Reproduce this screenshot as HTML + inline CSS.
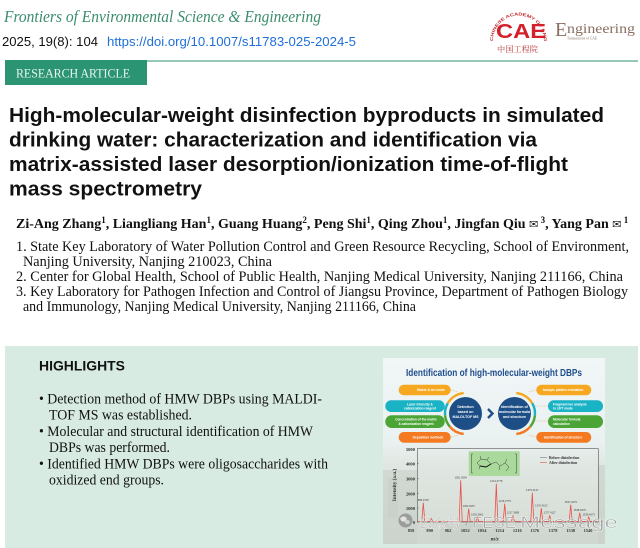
<!DOCTYPE html>
<html>
<head>
<meta charset="utf-8">
<style>
  html,body{margin:0;padding:0;background:#fff;}
  svg{display:block;}
</style>
</head>
<body>
<svg width="640" height="548" viewBox="0 0 640 548" xmlns="http://www.w3.org/2000/svg">
  <defs>
    <linearGradient id="card" x1="0" y1="0" x2="0" y2="1">
      <stop offset="0" stop-color="#f1f6f7"/>
      <stop offset="0.45" stop-color="#eaf1f1"/>
      <stop offset="0.58" stop-color="#e0e6e1"/>
      <stop offset="1" stop-color="#d4dbd4"/>
    </linearGradient>
    <path id="arcCAE" d="M 493 41 A 25 25 0 1 1 544 41"/>
  </defs>

  <rect x="0" y="0" width="640" height="548" fill="#ffffff"/>

  <!-- Journal header -->
  <text x="4" y="22" font-family="Liberation Serif, serif" font-style="italic" font-size="16.5" fill="#3b8c6c" textLength="317" lengthAdjust="spacingAndGlyphs">Frontiers of Environmental Science &amp; Engineering</text>
  <text x="2" y="46" font-family="Liberation Sans, sans-serif" font-size="13" fill="#111" textLength="96" lengthAdjust="spacingAndGlyphs">2025, 19(8): 104</text>
  <text x="107" y="46" font-family="Liberation Sans, sans-serif" font-size="13" fill="#1f6fd8" textLength="249" lengthAdjust="spacingAndGlyphs">https://doi.org/10.1007/s11783-025-2024-5</text>

  <!-- CAE logo -->
  <text font-family="Liberation Sans, sans-serif" font-size="4.2" fill="#c8282e" font-weight="bold"><textPath href="#arcCAE" textLength="108" lengthAdjust="spacingAndGlyphs">CHINESE ACADEMY OF ENGINEERING</textPath></text>
  <text x="496" y="38" font-family="Liberation Sans, sans-serif" font-weight="bold" font-size="20" fill="#d4202a" textLength="50" lengthAdjust="spacingAndGlyphs">CAE</text>
  <text x="497" y="52" font-family="Liberation Serif, 'Noto Serif CJK SC', serif" font-size="8" fill="#b8383a" textLength="41" lengthAdjust="spacingAndGlyphs">中国工程院</text>

  <!-- Engineering logo -->
  <text x="555" y="36" font-family="Liberation Serif, serif" font-size="20" fill="#8a6f62">E</text>
  <text x="567" y="33" font-family="Liberation Serif, serif" font-size="14" fill="#8a6f62" textLength="68" lengthAdjust="spacingAndGlyphs">ngineering</text>
  <text x="567" y="39.5" font-family="Liberation Serif, serif" font-size="4" fill="#8a6f62" textLength="30" lengthAdjust="spacingAndGlyphs">Transactions of CAE</text>

  <!-- Rule and badge -->
  <rect x="5" y="60" width="633" height="2" fill="#93c9b6"/>
  <rect x="5" y="60" width="142" height="25" fill="#2b9472"/>
  <text x="16" y="77.5" font-family="Liberation Serif, serif" font-size="13" fill="#e9f6f0" textLength="114" lengthAdjust="spacingAndGlyphs">RESEARCH ARTICLE</text>

  <!-- Title -->
  <g font-family="Liberation Sans, sans-serif" font-weight="bold" font-size="20" fill="#111">
    <text x="9" y="122" textLength="595" lengthAdjust="spacingAndGlyphs">High-molecular-weight disinfection byproducts in simulated</text>
    <text x="9" y="146.5" textLength="528" lengthAdjust="spacingAndGlyphs">drinking water: characterization and identification via</text>
    <text x="9" y="171" textLength="559" lengthAdjust="spacingAndGlyphs">matrix-assisted laser desorption/ionization time-of-flight</text>
    <text x="9" y="195.5" textLength="193" lengthAdjust="spacingAndGlyphs">mass spectrometry</text>
  </g>

  <!-- Authors -->
  <text x="16" y="228" font-family="Liberation Serif, serif" font-weight="bold" font-size="14" fill="#111">Zi-Ang Zhang<tspan dy="-5" font-size="9">1</tspan><tspan dy="5">, Liangliang Han</tspan><tspan dy="-5" font-size="9">1</tspan><tspan dy="5">, Guang Huang</tspan><tspan dy="-5" font-size="9">2</tspan><tspan dy="5">, Peng Shi</tspan><tspan dy="-5" font-size="9">1</tspan><tspan dy="5">, Qing Zhou</tspan><tspan dy="-5" font-size="9">1</tspan><tspan dy="5">, Jingfan Qiu </tspan><tspan font-family="DejaVu Sans, sans-serif" font-weight="normal" font-size="11">✉</tspan><tspan dy="-5" font-size="9"> 3</tspan><tspan dy="5">, Yang Pan </tspan><tspan font-family="DejaVu Sans, sans-serif" font-weight="normal" font-size="11">✉</tspan><tspan dy="-5" font-size="9"> 1</tspan></text>

  <!-- Affiliations -->
  <g font-family="Liberation Serif, serif" font-size="14.5" fill="#111">
    <text x="16" y="251" textLength="613" lengthAdjust="spacingAndGlyphs">1. State Key Laboratory of Water Pollution Control and Green Resource Recycling, School of Environment,</text>
    <text x="23" y="266" textLength="249" lengthAdjust="spacingAndGlyphs">Nanjing University, Nanjing 210023, China</text>
    <text x="16" y="281" textLength="607" lengthAdjust="spacingAndGlyphs">2. Center for Global Health, School of Public Health, Nanjing Medical University, Nanjing 211166, China</text>
    <text x="16" y="296" textLength="612" lengthAdjust="spacingAndGlyphs">3. Key Laboratory for Pathogen Infection and Control of Jiangsu Province, Department of Pathogen Biology</text>
    <text x="23" y="311" textLength="393" lengthAdjust="spacingAndGlyphs">and Immunology, Nanjing Medical University, Nanjing 211166, China</text>
  </g>

  <!-- Highlights box -->
  <rect x="5" y="346" width="633" height="202" fill="#d8ebe3"/>
  <text x="39" y="370.7" font-family="Liberation Sans, sans-serif" font-weight="bold" font-size="14" fill="#111" textLength="86" lengthAdjust="spacingAndGlyphs">HIGHLIGHTS</text>
  <g font-family="Liberation Serif, serif" font-size="15" fill="#111">
    <text x="39" y="403.5" textLength="283" lengthAdjust="spacingAndGlyphs">• Detection method of HMW DBPs using MALDI-</text>
    <text x="49" y="419.5" textLength="143" lengthAdjust="spacingAndGlyphs">TOF MS was established.</text>
    <text x="39" y="436" textLength="274" lengthAdjust="spacingAndGlyphs">• Molecular and structural identification of HMW</text>
    <text x="49" y="452" textLength="121" lengthAdjust="spacingAndGlyphs">DBPs was performed.</text>
    <text x="39" y="468.5" textLength="289" lengthAdjust="spacingAndGlyphs">• Identified HMW DBPs were oligosaccharides with</text>
    <text x="49" y="484.5" textLength="115" lengthAdjust="spacingAndGlyphs">oxidized end groups.</text>
  </g>

  <!-- Graphical abstract card -->
  <rect x="383" y="358" width="222" height="186" fill="url(#card)"/>
  <g opacity="0.5">
    <rect x="383" y="470" width="34" height="74" fill="#c6cdc7"/>
    <rect x="388" y="478" width="10" height="40" fill="#bcc4be"/>
    <rect x="598" y="465" width="7" height="79" fill="#c3cbc4"/>
    <rect x="417" y="522" width="181" height="22" fill="#cdd4cd"/>
    <rect x="440" y="524" width="60" height="20" fill="#c0c8c1"/>
  </g>

  <text x="406" y="376" font-family="Liberation Sans, sans-serif" font-weight="bold" font-size="10" fill="#1f4e8c" textLength="176" lengthAdjust="spacingAndGlyphs">Identification of high-molecular-weight DBPs</text>

  <g font-family="Liberation Sans, sans-serif" font-size="3.2" fill="#fff" font-weight="bold">
    <rect x="398.7" y="384.7" width="52" height="10.6" rx="5.3" fill="#f6a821"/>
    <text x="431" y="391.2" text-anchor="middle">Matrix &amp; ion mode</text>
    <rect x="385.3" y="400.3" width="59.4" height="11.7" rx="5.8" fill="#1ab2c5"/>
    <text x="420" y="405.3" text-anchor="middle">Laser intensity &amp;</text>
    <text x="420" y="409.5" text-anchor="middle">cationization reagent</text>
    <rect x="385.3" y="415.3" width="59.4" height="12.7" rx="6.3" fill="#4aa436"/>
    <text x="416" y="420.7" text-anchor="middle">Concentration of the matrix</text>
    <text x="416" y="424.9" text-anchor="middle">&amp; cationization reagent</text>
    <rect x="398.7" y="432" width="52" height="10.7" rx="5.3" fill="#f47a21"/>
    <text x="428" y="438.5" text-anchor="middle">Deposition methods</text>
    <rect x="536.3" y="384.7" width="55" height="10.6" rx="5.3" fill="#f6a821"/>
    <text x="563" y="391.2" text-anchor="middle">Isotopic pattern evaluation</text>
    <rect x="548" y="400.3" width="55" height="11.7" rx="5.8" fill="#1ab2c5"/>
    <text x="553" y="405.3">Fragment ion analysis</text>
    <text x="553" y="409.5">in LIFT mode</text>
    <rect x="548" y="415.3" width="55" height="12.7" rx="6.3" fill="#4aa436"/>
    <text x="553" y="420.7">Molecular formula</text>
    <text x="553" y="424.9">calculation</text>
    <rect x="536.3" y="432" width="55" height="10.7" rx="5.3" fill="#f47a21"/>
    <text x="563" y="438.5" text-anchor="middle">Identification of structure</text>
  </g>

  <g stroke="#e3a35a" stroke-width="0.5" stroke-dasharray="1,0.8" fill="none">
    <line x1="451" y1="390" x2="458" y2="392"/>
    <line x1="445" y1="406" x2="448" y2="406"/>
    <line x1="445" y1="421" x2="447" y2="421"/>
    <line x1="451" y1="437" x2="458" y2="435"/>
    <line x1="529" y1="392" x2="536" y2="390"/>
    <line x1="533" y1="406" x2="548" y2="406"/>
    <line x1="533" y1="421" x2="548" y2="421"/>
    <line x1="529" y1="435" x2="536" y2="437"/>
  </g>

  <g fill="none" stroke-width="2.4">
    <path d="M463.71 393.08 A20.5 20.5 0 0 0 447.75 403.25" stroke="#f6a821"/>
    <path d="M447.75 403.25 A20.5 20.5 0 0 0 445.08 415.29" stroke="#1ab2c5"/>
    <path d="M445.08 415.29 A20.5 20.5 0 0 0 449.80 426.68" stroke="#4aa436"/>
    <path d="M449.80 426.68 A20.5 20.5 0 0 0 463.71 433.92" stroke="#f47a21"/>
    <path d="M516.29 393.08 A20.5 20.5 0 0 1 532.25 403.25" stroke="#f6a821"/>
    <path d="M532.25 403.25 A20.5 20.5 0 0 1 534.92 415.29" stroke="#1ab2c5"/>
    <path d="M534.92 415.29 A20.5 20.5 0 0 1 530.20 426.68" stroke="#4aa436"/>
    <path d="M530.20 426.68 A20.5 20.5 0 0 1 516.29 433.92" stroke="#f47a21"/>
  </g>
  <circle cx="465.5" cy="413.5" r="16.5" fill="#1d4f86"/>
  <circle cx="514.5" cy="413.5" r="16.5" fill="#1d4f86"/>
  <polyline points="488,409 492.5,413.5 488,418" fill="none" stroke="#1d4f86" stroke-width="2.4"/>
  <g font-family="Liberation Sans, sans-serif" font-size="3.6" fill="#fff" font-weight="bold" text-anchor="middle">
    <text x="465.5" y="408">Detection</text>
    <text x="465.5" y="413">based on</text>
    <text x="465.5" y="418">MALDI-TOF MS</text>
    <text x="514.5" y="408">Identification of</text>
    <text x="514.5" y="413">molecular formula</text>
    <text x="514.5" y="418">and structure</text>
  </g>

  <!-- Spectrum chart -->
  <rect x="417.3" y="448.7" width="181" height="73.3" fill="none" stroke="#555" stroke-width="0.6"/>
  <g font-family="Liberation Serif, serif" font-weight="bold" font-size="4.6" fill="#333" text-anchor="end">
    <text x="415" y="451">5000</text>
    <text x="415" y="465.5">4000</text>
    <text x="415" y="480.5">3000</text>
    <text x="415" y="495.5">2000</text>
    <text x="415" y="510">1000</text>
    <text x="415" y="524">0</text>
  </g>
  <g stroke="#555" stroke-width="0.4">
    <line x1="417.3" y1="463.7" x2="419" y2="463.7"/>
    <line x1="417.3" y1="478.7" x2="419" y2="478.7"/>
    <line x1="417.3" y1="493.7" x2="419" y2="493.7"/>
    <line x1="417.3" y1="508" x2="419" y2="508"/>
  </g>
  <text transform="translate(396,485) rotate(-90)" font-family="Liberation Serif, serif" font-weight="bold" font-size="5.2" fill="#333" text-anchor="middle">Intensity (a.u.)</text>
  <g font-family="Liberation Serif, serif" font-weight="bold" font-size="4.4" fill="#333" text-anchor="middle">
    <text x="411" y="532">858</text>
    <text x="429.7" y="532">890</text>
    <text x="448" y="532">962</text>
    <text x="465.3" y="532">1052</text>
    <text x="482" y="532">1054</text>
    <text x="499.7" y="532">1214</text>
    <text x="517.3" y="532">1216</text>
    <text x="534.7" y="532">1376</text>
    <text x="553" y="532">1378</text>
    <text x="570.7" y="532">1538</text>
    <text x="588" y="532">1540</text>
  </g>
  <text x="494.7" y="540.5" font-family="Liberation Serif, serif" font-weight="bold" font-style="italic" font-size="5.6" fill="#333" text-anchor="middle">m/z</text>

  <line x1="540" y1="457.5" x2="547" y2="457.5" stroke="#777" stroke-width="0.6"/>
  <line x1="540" y1="462.5" x2="547" y2="462.5" stroke="#e5534b" stroke-width="0.6"/>
  <g font-family="Liberation Serif, serif" font-weight="bold" font-size="3.8" fill="#333">
    <text x="549" y="459">Before disinfection</text>
    <text x="549" y="464">After disinfection</text>
  </g>

  <rect x="468.7" y="451.3" width="51" height="24.7" fill="#a9d99b"/>
  <g fill="none" stroke="#333" stroke-width="0.45">
    <polyline points="473,454 471.5,454 471.5,473 473,473"/>
    <polyline points="515,454 516.5,454 516.5,473 515,473"/>
    <polyline points="477,463 481,459 487,460 491,464 486,467 480,466 477,463"/>
    <polyline points="491,464 496,462 500,466 505,463 509,467 506,471"/>
    <line x1="481" y1="459" x2="480" y2="456"/>
    <line x1="487" y1="460" x2="489" y2="457"/>
    <line x1="480" y1="466" x2="479" y2="469"/>
    <line x1="500" y1="466" x2="499" y2="470"/>
    <line x1="505" y1="463" x2="507" y2="459"/>
  </g>
  <polyline points="480,466 486,467 491,464" fill="none" stroke="#111" stroke-width="1"/>

  <polyline points="418,521.6 597,521.3" fill="none" stroke="#888" stroke-width="0.5"/>
  <path d="M418 521.5 L421.8 521.5 L423.3 502.7 L424.8 521.5 L429.8 521.5 L431.3 518.5 L432.8 521.5 L459.2 521.5 L460.7 480.3 L462.2 521.5 L467.2 521.5 L468.7 508.7 L470.2 521.5 L475.8 521.5 L477.3 517 L478.8 521.5 L494.8 521.5 L496.3 483.7 L497.8 521.5 L503.2 521.5 L504.7 503.7 L506.2 521.5 L511.5 521.5 L513 515.3 L514.5 521.5 L530.8 521.5 L532.3 492.7 L533.8 521.5 L539.8 521.5 L541.3 508 L542.8 521.5 L548.2 521.5 L549.7 515.3 L551.2 521.5 L569.2 521.5 L570.7 504.7 L572.2 521.5 L578.2 521.5 L579.7 512.7 L581.2 521.5 L587.2 521.5 L588.7 517 L590.2 521.5 L597 521.5" fill="none" stroke="#e5534b" stroke-width="0.8"/>
  <g font-family="Liberation Sans, sans-serif" font-size="2.6" fill="#444" text-anchor="middle">
    <text x="423.3" y="501">885.2478</text>
    <text x="460.7" y="478.6">1051.3654</text>
    <text x="468.7" y="507">1053.3657</text>
    <text x="477.3" y="515.5">1055.3661</text>
    <text x="496.3" y="482">1213.3778</text>
    <text x="504.7" y="502">1215.3775</text>
    <text x="513" y="513.7">1217.3688</text>
    <text x="532.3" y="491">1375.4137</text>
    <text x="541.3" y="506.4">1376.4152</text>
    <text x="549.7" y="513.7">1377.4117</text>
    <text x="570.7" y="503">1537.4679</text>
    <text x="579.7" y="511">1538.4675</text>
    <text x="588.7" y="515.5">1539.4673</text>
  </g>

  <g opacity="0.8">
    <circle cx="405.5" cy="520.5" r="7" fill="#8e8e8e"/>
    <ellipse cx="403.5" cy="519" rx="3.2" ry="2.6" fill="#e6e6e6"/>
    <ellipse cx="407.3" cy="522" rx="2.6" ry="2.1" fill="#cfcfcf"/>
    <text x="419" y="528" font-family="Liberation Sans, 'Noto Sans CJK SC', sans-serif" font-size="14" fill="#8e8e8e" stroke="#ffffff" stroke-width="0.5" textLength="42" lengthAdjust="spacingAndGlyphs">公众号</text>
    <text x="464" y="528" font-family="Liberation Sans, sans-serif" font-size="14" fill="#8e8e8e">·</text>
    <text x="472" y="528" font-family="Liberation Sans, sans-serif" font-size="16" fill="#8e8e8e" stroke="#ffffff" stroke-width="0.5" textLength="44" lengthAdjust="spacingAndGlyphs">FESE</text>
    <text x="520" y="528" font-family="Liberation Sans, sans-serif" font-size="17" fill="#8e8e8e" stroke="#ffffff" stroke-width="0.5" textLength="98" lengthAdjust="spacingAndGlyphs">Message</text>
  </g>
</svg>
</body>
</html>
